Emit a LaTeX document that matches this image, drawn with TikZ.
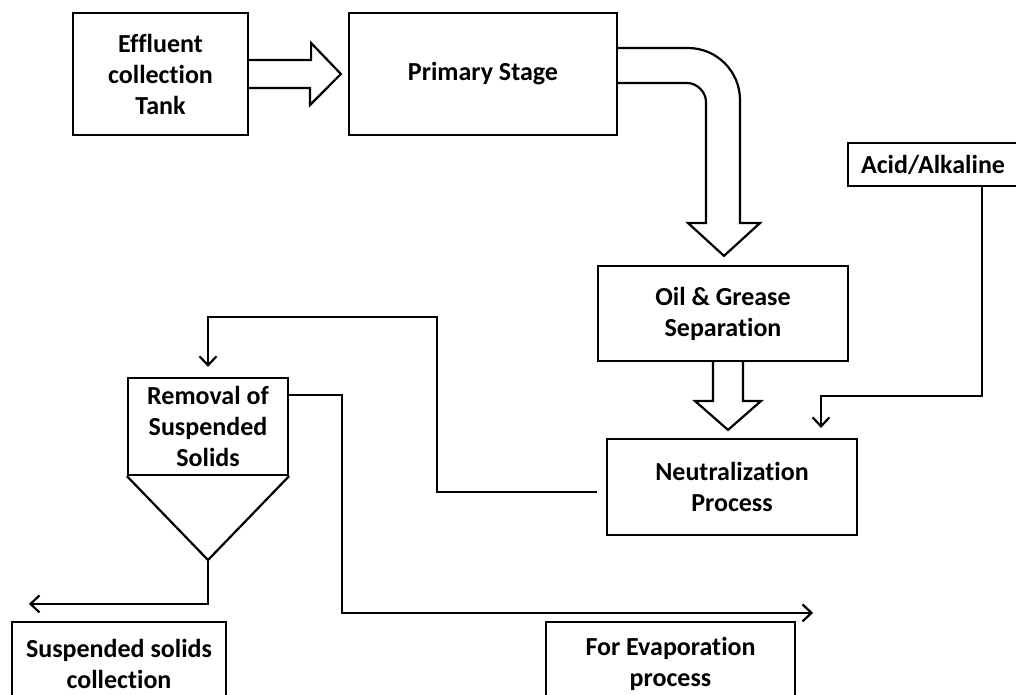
\documentclass[tikz,border=0pt]{standalone}
\usepackage{fontspec}
\setmainfont{Carlito}[Ligatures=NoCommon]
\usetikzlibrary{arrows.meta,calc}

\begin{document}
\begin{tikzpicture}[x=1pt, y=-1pt,
    stage/.style={draw, line width=2.2pt, align=center, inner sep=2pt,
        font=\fontsize{26}{31}\selectfont\bfseries},
    bigarrow/.style={draw, line width=2.2pt, fill=white, line join=miter},
    flow/.style={draw, line width=2pt, -{Straight Barb[length=9pt,width=17pt,line width=2.2pt]}}]
    \useasboundingbox (0,0) rectangle (1016,695);

    % Boites du procede
    \node[stage, minimum width=175pt, minimum height=122pt] (tank) at (160.5,74) {Effluent\\collection\\Tank};
    \node[stage, minimum width=268pt, minimum height=122pt] (primary) at (483,74) {Primary Stage};
    \node[stage, minimum width=170pt, minimum height=43pt] (acid) at (933,164.5) {Acid/Alkaline};
    \node[stage, minimum width=250pt, minimum height=95pt] (oil) at (723,313.5) {Oil \& Grease\\Separation};
    \node[stage, minimum width=250pt, minimum height=96pt] (neut) at (732,487) {Neutralization\\Process};
    \node[stage, minimum width=160pt, minimum height=97pt] (removal) at (208,426.5) {Removal of\\Suspended\\Solids};
    \node[stage, minimum width=214pt, minimum height=84pt] (susp) at (119,664) {Suspended solids\\collection};
    \node[stage, minimum width=249pt, minimum height=84pt] (evap) at (670.5,664) {For Evaporation\\process};

    % Tremie sous la decantation
    \coordinate (apex) at (208,560);
    \draw[line width=2.2pt, line join=miter] (removal.south west) -- (apex) -- (removal.south east);

    % Grosses fleches
    \draw[bigarrow] ($(tank.east)+(0,-14)$) -- ++(62,0) -- ++(0,-17) -- ($(primary.west)+(-7,0)$)
        -- (310,105) -- ++(0,-17) -- ($(tank.east)+(0,14)$);
    \draw[bigarrow] ($(primary.east)+(0,-26)$) -- (688,48) .. controls (716.7,48) and (740,71.3) .. (740,100)
        -- (740,223) -- (760,223) -- ($(oil.north)+(1,-9)$) -- (688,223) -- (706,223)
        -- (706,102) .. controls (706,92.5) and (697.5,83) .. (687,83) -- ($(primary.east)+(0,9)$);
    \draw[bigarrow] ($(oil.south)+(-10,0)$) -- (713,401) -- (695,401) -- ($(neut.north)+(-4,-8)$)
        -- (761,401) -- (743,401) -- ($(oil.south)+(20,0)$);

    % Liaisons
    \draw[flow] ($(acid.south)+(49,0)$) |- ($(neut.north)+(89,-42)$) -- ($(neut.north)+(89,-10)$);
    \draw[flow] ($(neut.west)+(-9,5)$) -- ++(-160,0) |- ($(removal.north)+(0,-60)$) -- ($(removal.north)+(0,-10)$);
    \draw[flow] ($(removal.north east)+(0,18)$) -| ++(53,218) -- ($(evap.north east)+(17,-8)$);
    \draw[flow] (apex) |- ($(susp.north west)+(18,-17)$);
\end{tikzpicture}
\end{document}
